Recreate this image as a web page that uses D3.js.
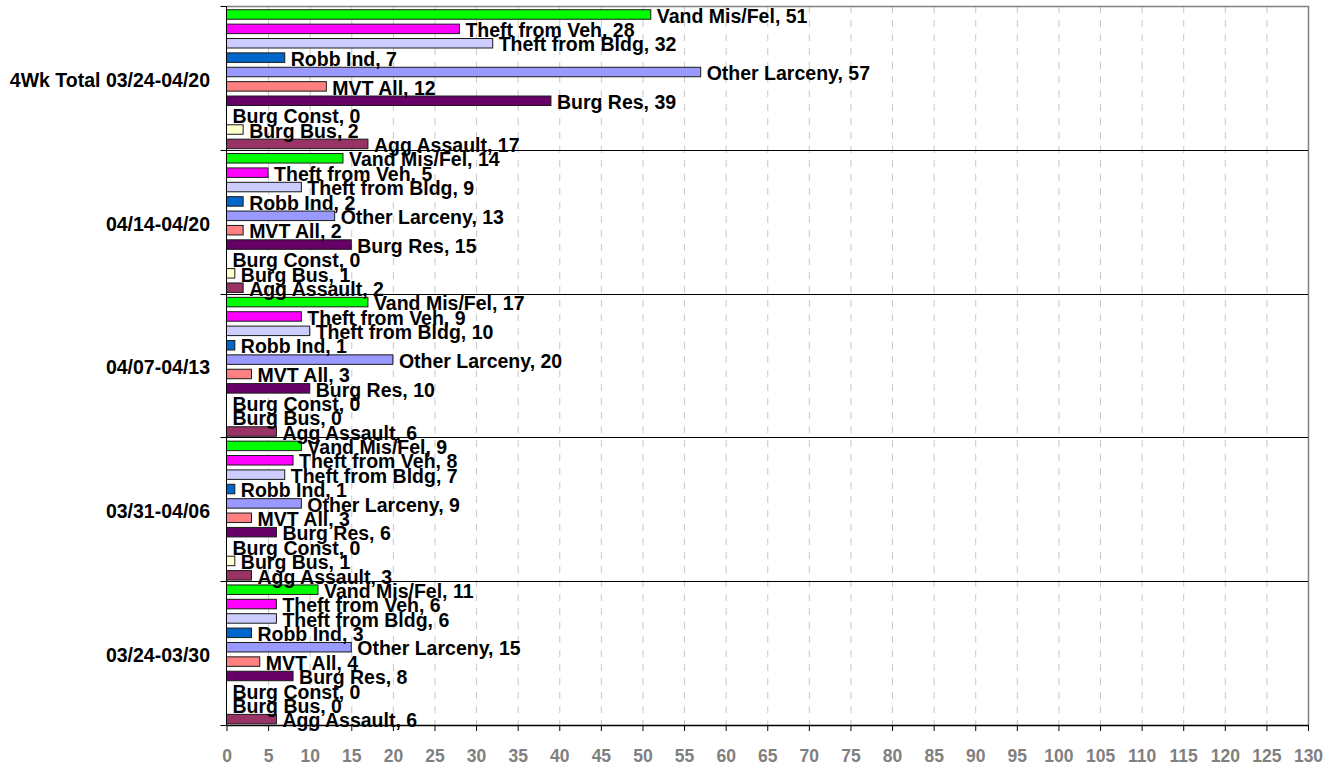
<!DOCTYPE html>
<html lang="en">
<head>
<meta charset="utf-8">
<title>Crime by week</title>
<script src="https://d3js.org/d3.v7.min.js"></script>
<style>
  body { margin: 0; background: #fff; }
  svg { font-family: "Liberation Sans", Arial, sans-serif; font-weight: bold; }
</style>
</head>
<body>
<div id="chart"></div>
<script>
var groups = ["4Wk Total 03/24-04/20", "04/14-04/20", "04/07-04/13", "03/31-04/06", "03/24-03/30"];
var crimes = ["Vand Mis/Fel", "Theft from Veh", "Theft from Bldg", "Robb Ind", "Other Larceny",
              "MVT All", "Burg Res", "Burg Const", "Burg Bus", "Agg Assault"];
var colors = ["#00ff00", "#ff00ff", "#ccccff", "#0066cc", "#9999ff",
              "#ff8080", "#660066", "#ccffff", "#ffffcc", "#993366"];

// one array per group, same order as crimes
var total4wk = [51, 28, 32, 7, 57, 12, 39, 0, 2, 17];
var wk0414 = [14, 5, 9, 2, 13, 2, 15, 0, 1, 2];
var wk0407 = [17, 9, 10, 1, 20, 3, 10, 0, 0, 6];
var wk0331 = [9, 8, 7, 1, 9, 3, 6, 0, 1, 3];
var wk0324 = [11, 6, 6, 3, 15, 4, 8, 0, 0, 6];
var values = [total4wk, wk0414, wk0407, wk0331, wk0324];

var xTicks = d3.range(0, 131, 5);

var width = 1341, height = 767;
var pL = 226.5, pR = 1308, pT = 6, pB = 725;

var svg = d3.select("#chart").append("svg")
    .attr("width", width)
    .attr("height", height);

var x = d3.scaleLinear().domain([0, 130]).range([pL, pR]);
var y0 = d3.scaleBand().domain(groups).range([pT, pB]);
var y1 = d3.scaleBand().domain(crimes)
    .range([1.3, y0.bandwidth() + 1.3])
    .paddingInner(0.34).paddingOuter(0.17);
var color = d3.scaleOrdinal().domain(crimes).range(colors);

var rows = [];
groups.forEach(function(g, gi) {
  crimes.forEach(function(c, ci) {
    rows.push({group: g, crime: c, value: values[gi][ci]});
  });
});

// dashed grid
svg.append("g")
  .selectAll("line")
  .data(xTicks.filter(d => d > 0 && d < 130))
  .enter().append("line")
    .attr("x1", d => x(d) + 0.5).attr("x2", d => x(d) + 0.5)
    .attr("y1", pT).attr("y2", pB)
    .attr("stroke", "#c8c8c8")
    .attr("stroke-dasharray", "7,7");

// plot border (top + right)
svg.append("path")
  .attr("d", `M${pL},${pT + 0.5}H${pR + 0.5}V${pB}`)
  .attr("fill", "none")
  .attr("stroke", "#808080")
  .attr("stroke-width", 1.5);

// group separators
var bounds = groups.map(g => y0(g)).concat([pB]);
svg.append("g")
  .selectAll("line")
  .data(bounds.slice(1, -1))
  .enter().append("line")
    .attr("x1", pL).attr("x2", pR)
    .attr("y1", d => Math.round(d) + 0.5).attr("y2", d => Math.round(d) + 0.5)
    .attr("stroke", "#000");

// bars
svg.append("g")
  .selectAll("rect")
  .data(rows.filter(d => d.value > 0))
  .enter().append("rect")
    .attr("x", x(0))
    .attr("y", d => y0(d.group) + y1(d.crime))
    .attr("width", d => x(d.value) - x(0))
    .attr("height", y1.bandwidth())
    .attr("fill", d => color(d.crime))
    .attr("stroke", "#1a1a1a")
    .attr("stroke-width", 1);

// y axis line and boundary ticks
svg.append("line")
  .attr("x1", pL).attr("x2", pL)
  .attr("y1", pT).attr("y2", pB)
  .attr("stroke", "#000");
svg.append("g")
  .selectAll("line")
  .data(bounds)
  .enter().append("line")
    .attr("x1", pL - 6).attr("x2", pL)
    .attr("y1", d => Math.round(d) + 0.5).attr("y2", d => Math.round(d) + 0.5)
    .attr("stroke", "#000");

// group labels
svg.append("g")
  .selectAll("text")
  .data(groups)
  .enter().append("text")
    .attr("x", 210)
    .attr("y", d => y0(d) + y0.bandwidth() / 2 + 8.8)
    .attr("text-anchor", "end")
    .attr("font-size", 19.5)
    .attr("fill", "#000")
    .text(d => d);

// x axis
var xAxis = svg.append("g")
  .attr("transform", `translate(0,${pB})`)
  .call(d3.axisBottom(x).tickValues(xTicks).tickSize(6).tickSizeOuter(0).tickPadding(19));
xAxis.select(".domain").attr("stroke", "#000").attr("stroke-width", 1.5);
xAxis.selectAll(".tick line").attr("stroke", "#000");
xAxis.selectAll(".tick text")
  .attr("font-size", 17.5)
  .attr("font-family", "'Liberation Sans', Arial, sans-serif")
  .attr("font-weight", "bold")
  .attr("fill", "#808080");

// bar value labels
svg.append("g")
  .selectAll("text")
  .data(rows)
  .enter().append("text")
    .attr("x", d => x(d.value) + 6)
    .attr("y", d => y0(d.group) + y1(d.crime) + y1.bandwidth() / 2 + 8.2)
    .attr("font-size", 19.5)
    .attr("fill", "#000")
    .text(d => d.crime + ", " + d.value);
</script>
</body>
</html>
